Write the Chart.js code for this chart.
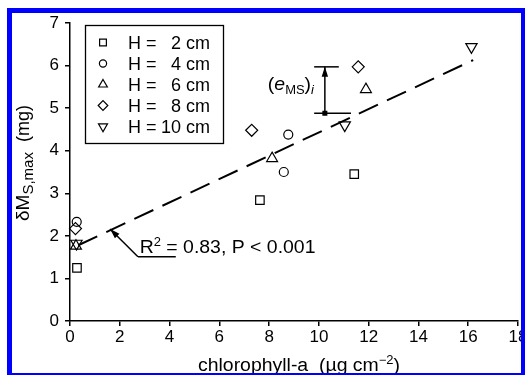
<!DOCTYPE html>
<html>
<head>
<meta charset="utf-8">
<script src="https://cdn.jsdelivr.net/npm/chart.js@4.4.0/dist/chart.umd.min.js"></script>
<style>
  html, body { margin: 0; padding: 0; background: #fff; }
  #wrap { position: relative; width: 530px; height: 375px; overflow: hidden; }
  #frame { position: absolute; left: 7px; top: 8px; width: 518px; height: 368px; box-sizing: border-box;
    border-style: solid; border-color: #0000ff; border-width: 5px 4px 3px 5px; pointer-events: none; }
  #cut { position: absolute; left: 525px; top: 0; width: 5px; height: 375px; background: #fff; }
</style>
</head>
<body>
<div id="wrap">
  <canvas id="chart" width="530" height="375"></canvas>
  <div id="frame"></div>
  <div id="cut"></div>
</div>
<script>
// values
const heightsCm = [2, 4, 6, 8, 10];
const h2X = [0.28, 7.63, 11.42];
const h2Y = [1.25, 2.84, 3.45];
const h4X = [0.27, 8.59, 8.77];
const h4Y = [2.33, 3.50, 4.38];
const h6X = [0.24, 8.12, 11.89];
const h6Y = [1.76, 3.82, 5.44];
const h8X = [0.22, 7.30, 11.58];
const h8Y = [2.17, 4.48, 5.97];
const h10X = [0.26, 11.04, 16.13];
const h10Y = [1.82, 4.60, 6.44];
const fitX = [0.33, 16.2];
const fitY = [1.78, 6.13];
const xTickValues = [0, 2, 4, 6, 8, 10, 12, 14, 16, 18];
const yTickValues = [0, 1, 2, 3, 4, 5, 6, 7];

const FONT = '"Liberation Sans", Arial, sans-serif';
const zip = (xs, ys) => xs.map((v, i) => ({ x: v, y: ys[i] }));

const markers = [
  { pointStyle: 'rect', rotation: 0, radius: 6 },
  { pointStyle: 'circle', rotation: 0, radius: 4.5 },
  { pointStyle: 'triangle', rotation: 0, radius: 6.3 },
  { pointStyle: 'rectRot', rotation: 0, radius: 6 },
  { pointStyle: 'triangle', rotation: 180, radius: 6.5 }
];
const seriesX = [h2X, h4X, h6X, h8X, h10X];
const seriesY = [h2Y, h4Y, h6Y, h8Y, h10Y];

const datasets = heightsCm.map((h, i) => ({
  type: 'scatter',
  label: 'H = ' + h + ' cm',
  data: zip(seriesX[i], seriesY[i]),
  pointStyle: markers[i].pointStyle,
  rotation: markers[i].rotation,
  pointRadius: markers[i].radius,
  pointBorderWidth: 1.2,
  borderColor: '#000',
  backgroundColor: 'rgba(0,0,0,0)',
  clip: false
}));
datasets.push({
  type: 'line',
  label: 'fit',
  data: zip(fitX, fitY),
  borderColor: '#000',
  borderWidth: 2,
  borderDash: [21, 10],
  pointRadius: 0,
  fill: false,
  clip: false
});

// text with sub/superscripts, slightly stretched like the original
function richText(ctx, segs, x, y, sx, align) {
  ctx.save();
  ctx.translate(x, y);
  ctx.scale(sx, 1);
  let w = 0;
  segs.forEach(s => {
    ctx.font = (s.italic ? 'italic ' : '') + s.size + 'px ' + FONT;
    w += ctx.measureText(s.text).width;
  });
  let cx = align === 'center' ? -w / 2 : 0;
  ctx.textBaseline = 'alphabetic';
  ctx.textAlign = 'left';
  segs.forEach(s => {
    ctx.font = (s.italic ? 'italic ' : '') + s.size + 'px ' + FONT;
    ctx.fillText(s.text, cx, s.dy || 0);
    cx += ctx.measureText(s.text).width;
  });
  ctx.restore();
}

function arrowLine(ctx, x1, y1, x2, y2) {
  ctx.beginPath();
  ctx.moveTo(x1, y1);
  ctx.lineTo(x2, y2);
  ctx.stroke();
  const a = Math.atan2(y2 - y1, x2 - x1);
  const len = 10, hw = 3.2;
  ctx.beginPath();
  ctx.moveTo(x2, y2);
  ctx.lineTo(x2 - len * Math.cos(a) + hw * Math.sin(a), y2 - len * Math.sin(a) - hw * Math.cos(a));
  ctx.lineTo(x2 - len * Math.cos(a) - hw * Math.sin(a), y2 - len * Math.sin(a) + hw * Math.cos(a));
  ctx.closePath();
  ctx.fill();
}

function seg(ctx, x1, y1, x2, y2) {
  ctx.beginPath();
  ctx.moveTo(x1, y1);
  ctx.lineTo(x2, y2);
  ctx.stroke();
}

const decorations = {
  id: 'decorations',
  afterDraw(chart) {
    const { ctx, scales: { x, y } } = chart;
    const px = v => x.getPixelForValue(v);
    const py = v => y.getPixelForValue(v);
    ctx.save();
    ctx.strokeStyle = '#000';
    ctx.fillStyle = '#000';
    ctx.lineWidth = 1.5;

    // R2 leader
    seg(ctx, px(2.73), py(1.51), px(4.25), py(1.51));
    arrowLine(ctx, px(2.73), py(1.51), px(1.61), py(2.16));
    richText(ctx, [
      { text: 'R', size: 18 },
      { text: '2', size: 12, dy: -7 },
      { text: ' = 0.83, P < 0.001', size: 18 }
    ], px(2.8), py(1.6), 1.08);

    // residual marker
    seg(ctx, px(9.81), py(5.97), px(10.8), py(5.97));
    seg(ctx, px(9.81), py(4.88), px(11.29), py(4.88));
    arrowLine(ctx, px(10.24), py(4.88), px(10.24), py(5.97));
    ctx.fillRect(px(10.24) - 2.5, py(4.88) - 2.5, 5, 5);
    richText(ctx, [
      { text: '(', size: 18 },
      { text: 'e', size: 18, italic: true },
      { text: 'MS', size: 12, dy: 4 },
      { text: ')', size: 18 },
      { text: 'i', size: 12, dy: 4, italic: true }
    ], px(7.95), py(5.42), 1.08);

    // legend box
    ctx.lineWidth = 1.3;
    ctx.strokeRect(85.5, 25.5, 138, 118);
    chart.data.datasets.forEach((ds, i) => {
      if (ds.type !== 'scatter') return;
      const ry = 42.5 + i * 21;
      const opts = { pointStyle: ds.pointStyle, rotation: ds.rotation, radius: ds.pointRadius * 0.8, borderWidth: 1.2 };
      ctx.lineWidth = 1.2;
      ctx.fillStyle = 'rgba(0,0,0,0)';
      if (Chart.helpers && Chart.helpers.drawPoint) {
        Chart.helpers.drawPoint(ctx, opts, 103, ry);
      }
      ctx.fillStyle = '#000';
      ctx.font = '18px ' + FONT;
      ctx.textBaseline = 'alphabetic';
      ctx.textAlign = 'left';
      ctx.fillText('H =', 128, ry + 6.5);
      ctx.textAlign = 'right';
      ctx.fillText(String(heightsCm[i]), 181, ry + 6.5);
      ctx.textAlign = 'left';
      ctx.fillText('cm', 186, ry + 6.5);
    });

    // axis titles
    richText(ctx, [
      { text: 'chlorophyll-a  (\u00b5g cm', size: 18 },
      { text: '\u22122', size: 12, dy: -7 },
      { text: ')', size: 18 }
    ], 299, 370.5, 1.08, 'center');

    ctx.save();
    ctx.translate(29, 163);
    ctx.rotate(-Math.PI / 2);
    richText(ctx, [
      { text: '\u03b4M', size: 19 },
      { text: 'S,max', size: 15, dy: 4 },
      { text: '  (mg)', size: 18 }
    ], 0, 0, 1, 'center');
    ctx.restore();

    ctx.restore();
  }
};

new Chart(document.getElementById('chart'), {
  data: { datasets },
  options: {
    responsive: false,
    animation: false,
    devicePixelRatio: 1,
    layout: { padding: { top: 23, right: 12, left: 0, bottom: 0 } },
    plugins: { legend: { display: false }, tooltip: { enabled: false } },
    scales: {
      x: {
        type: 'linear',
        min: 0,
        max: 18,
        afterBuildTicks: s => { s.ticks = xTickValues.map(v => ({ value: v })); },
        afterFit: s => { s.height = 54; },
        grid: { display: true, drawOnChartArea: false, drawTicks: true, tickLength: 5, color: '#000', lineWidth: 1.5 },
        border: { display: true, color: '#000', width: 1.5 },
        ticks: { color: '#000', padding: 1, font: { family: FONT, size: 17 }, maxRotation: 0 }
      },
      y: {
        type: 'linear',
        min: 0,
        max: 7,
        afterBuildTicks: s => { s.ticks = yTickValues.map(v => ({ value: v })); },
        afterFit: s => { s.width = 70; },
        grid: { display: true, drawOnChartArea: false, drawTicks: true, tickLength: 5, color: '#000', lineWidth: 1.5 },
        border: { display: true, color: '#000', width: 1.5 },
        ticks: { color: '#000', padding: 6, font: { family: FONT, size: 17 } }
      }
    }
  },
  plugins: [decorations]
});
</script>
</body>
</html>
